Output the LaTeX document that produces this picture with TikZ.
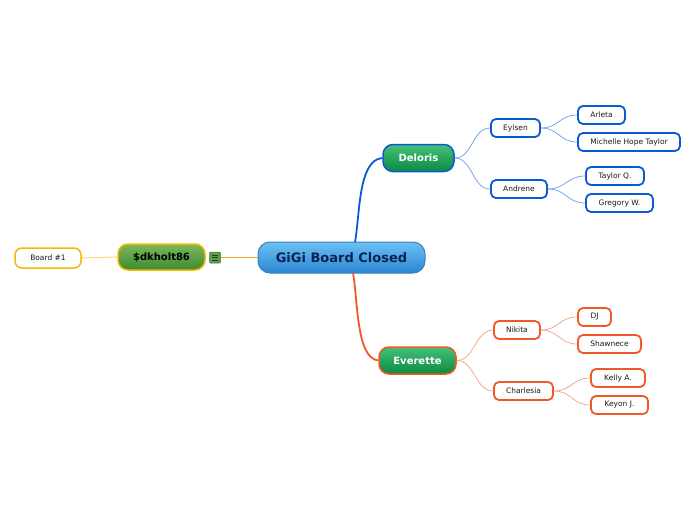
\documentclass[tikz,border=0pt]{standalone}
\usepackage{fontspec}
\setmainfont{DejaVu Sans}
\usetikzlibrary{backgrounds}
\begin{document}
\begin{tikzpicture}[x=1pt,y=-1pt,
  leaf/.style={draw, line width=1.8pt, rounded corners=5pt, fill=white, font=\fontsize{7.5}{9}\selectfont, text=black!90, inner sep=0pt, minimum height=18pt},
  bleaf/.style={leaf, draw=blueB},
  oleaf/.style={leaf, draw=orangeB},
  mainbox/.style={draw, line width=1.5pt, rounded corners=10pt, top color=greenT, bottom color=greenB, text=white, font=\bfseries\fontsize{10}{12}\selectfont, inner sep=0pt, minimum height=27pt},
  bline/.style={draw=blueL, line width=0.7pt},
  oline/.style={draw=orangeL, line width=0.7pt}
]
\definecolor{blueB}{HTML}{0A5AD8}
\definecolor{blueL}{HTML}{6E9EE6}
\definecolor{orangeB}{HTML}{F0582A}
\definecolor{orangeL}{HTML}{F6A082}
\definecolor{greenT}{HTML}{45C07A}
\definecolor{greenB}{HTML}{0B8A40}
\definecolor{rootT}{HTML}{6CC0F2}
\definecolor{rootB}{HTML}{2B86D2}
\definecolor{rootE}{HTML}{3F7FBF}
\definecolor{dkT}{HTML}{7AB85C}
\definecolor{dkB}{HTML}{3D8A2E}
\definecolor{yelB}{HTML}{F5B800}
\definecolor{icLine}{HTML}{F0A830}
\definecolor{b1Line}{HTML}{F8DC80}
\definecolor{icFill}{HTML}{5AA046}
\definecolor{icEdge}{HTML}{3C7832}
\definecolor{rootTxt}{HTML}{0A2355}
\useasboundingbox (0,0) rectangle (696,520);

% root
\node[draw=rootE, line width=1pt, rounded corners=12pt, top color=rootT, bottom color=rootB, text=rootTxt, font=\bfseries\fontsize{13}{15}\selectfont, minimum width=167pt, minimum height=31pt, inner sep=0pt] (root) at (341.5,257.5) {GiGi Board Closed};

% left branch
\node[draw=yelB, line width=1.5pt, rounded corners=10pt, top color=dkT, bottom color=dkB, text=black, font=\bfseries\fontsize{10}{12}\selectfont, minimum width=87pt, minimum height=26pt, inner sep=0pt] (dk) at (161.5,257) {\$dkholt86};
\node[draw=yelB, line width=1.5pt, rounded corners=7pt, fill=white, text=black!90, font=\fontsize{7.5}{9}\selectfont, minimum width=66pt, minimum height=20pt, inner sep=0pt] (b1) at (48,258) {Board \#1};
\node[fill=icFill, draw=icEdge, line width=0.5pt, rounded corners=1pt, minimum width=11pt, minimum height=11pt, inner sep=0pt] (ic) at (215,257.5) {};
\foreach \yy in {-2.5,0,2.5}{\draw[black!80, line width=0.6pt] ([xshift=-3pt,yshift=\yy pt]ic.center) -- ([xshift=3pt,yshift=\yy pt]ic.center);}
\begin{scope}[on background layer]
\fill[white] (0,0) rectangle (696,520);
\fill[icLine] ([yshift=-0.7pt]ic.east) rectangle ([yshift=0.7pt]root.west);
\draw[b1Line, line width=1pt] (b1.east) -- (dk.west);
\end{scope}

% main children
\node[mainbox, draw=blueB, minimum width=71pt] (del) at (418.5,158) {Deloris};
\node[mainbox, draw=orangeB, minimum width=77pt] (eve) at (417.5,360.5) {Everette};
\coordinate (rtop) at (355,242);
\coordinate (rbot) at (353,273);
\draw[draw=blueB, line width=1.8pt] (rtop) .. controls (360,215) and (358,160) .. (del.west);
\draw[draw=orangeB, line width=1.8pt] (rbot) .. controls (358,300) and (356,358) .. (eve.west);

% Deloris subtree
\node[bleaf, minimum width=49pt] (eyl) at (515.5,128) {Eylsen};
\node[bleaf, minimum width=56pt] (and) at (519,189) {Andrene};
\node[bleaf, minimum width=47pt] (arl) at (601.5,115) {Arleta};
\node[bleaf, minimum width=102pt] (mic) at (629,142) {Michelle Hope Taylor};
\node[bleaf, minimum width=58pt] (tay) at (615,176) {Taylor Q.};
\node[bleaf, minimum width=67pt] (gre) at (619.5,203) {Gregory W.};
\foreach \a/\b in {del/eyl,del/and,eyl/arl,eyl/mic,and/tay,and/gre}{
  \draw[bline] (\a.east) .. controls ([xshift=18pt]\a.east) and ([xshift=-18pt]\b.west) .. (\b.west);
}

% Everette subtree
\node[oleaf, minimum width=46pt] (nik) at (517,330) {Nikita};
\node[oleaf, minimum width=59pt] (cha) at (523.5,391) {Charlesia};
\node[oleaf, minimum width=33pt] (dj) at (594.5,317) {DJ};
\node[oleaf, minimum width=63pt] (sha) at (609.5,344) {Shawnece};
\node[oleaf, minimum width=54pt] (kel) at (618,378) {Kelly A.};
\node[oleaf, minimum width=57pt] (key) at (619.5,405) {Keyon J.};
\foreach \a/\b in {eve/nik,eve/cha,nik/dj,nik/sha,cha/kel,cha/key}{
  \draw[oline] (\a.east) .. controls ([xshift=18pt]\a.east) and ([xshift=-18pt]\b.west) .. (\b.west);
}
\end{tikzpicture}
\end{document}
